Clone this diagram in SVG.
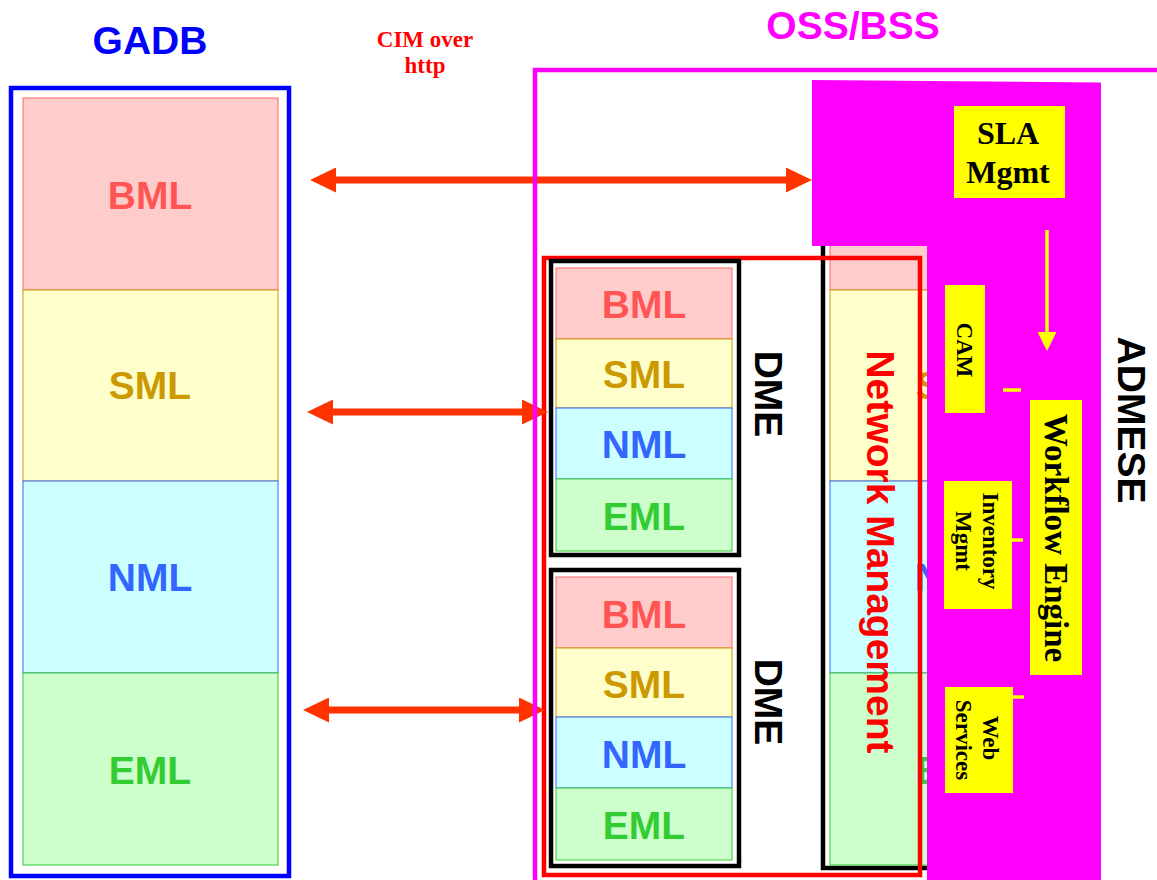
<svg xmlns="http://www.w3.org/2000/svg" width="1157" height="880" viewBox="0 0 1157 880">
<style>
.sans{font-family:"Liberation Sans",Arial,sans-serif;font-weight:bold}
.serif{font-family:"Liberation Serif","Times New Roman",serif;font-weight:bold}
.lbl{font-size:39px;text-anchor:middle}
.bml{fill:#ffcccc;stroke:#ff6666;stroke-width:1}
.sml{fill:#ffffcc;stroke:#cc9900;stroke-width:1}
.nml{fill:#ccffff;stroke:#3366ff;stroke-width:1}
.eml{fill:#ccffcc;stroke:#33cc33;stroke-width:1}
.tb{fill:#ff5555}
.ts{fill:#cc9900}
.tn{fill:#3366ff}
.te{fill:#33cc33}
.dmebox{fill:none;stroke:#000;stroke-width:4.5}
.ybox{fill:#ffff00}
.rt{font-size:23px;text-anchor:middle;fill:#000}
.arr{stroke:#ff3300;stroke-width:7;fill:none}
.yl{stroke:#ffff00;stroke-width:3.5;fill:none}
</style>
<defs>
<marker id="ah" viewBox="0 0 26 25" refX="6" refY="12.5" markerWidth="26" markerHeight="25" markerUnits="userSpaceOnUse" orient="auto-start-reverse">
<path d="M0,0 L26,12.5 L0,25 Z" fill="#ff3300"/>
</marker>
<marker id="ya" viewBox="0 0 19 19" refX="3" refY="9.5" markerWidth="19" markerHeight="19" markerUnits="userSpaceOnUse" orient="auto">
<path d="M0,0 L19,9.5 L0,19 Z" fill="#ffff00"/>
</marker>
</defs>
<rect width="1157" height="880" fill="#fff"/>

<g id="gadb">
<text class="sans" x="150" y="54" font-size="39" text-anchor="middle" fill="#0000ff">GADB</text>
<rect x="11" y="88" width="278" height="788" fill="none" stroke="#0000ff" stroke-width="4.5"/>
<rect class="bml" x="23" y="98" width="255" height="192"/>
<rect class="sml" x="23" y="290" width="255" height="191"/>
<rect class="nml" x="23" y="481" width="255" height="192"/>
<rect class="eml" x="23" y="673" width="255" height="192"/>
<text class="sans lbl tb" x="150" y="209">BML</text>
<text class="sans lbl ts" x="150" y="399">SML</text>
<text class="sans lbl tn" x="150" y="591">NML</text>
<text class="sans lbl te" x="150" y="784">EML</text>
</g>

<g id="cim-label">
<text class="serif" x="425" y="47" font-size="23" text-anchor="middle" fill="#ff0000">CIM over</text>
<text class="serif" x="425" y="73" font-size="23" text-anchor="middle" fill="#ff0000">http</text>
</g>

<g id="oss-title">
<text class="sans" x="853" y="39" font-size="39" text-anchor="middle" fill="#ff00ff">OSS/BSS</text>
</g>

<g id="nm-stack">
<rect x="823" y="240" width="270" height="628" fill="none" stroke="#000" stroke-width="4.5"/>
<rect class="bml" x="830" y="98" width="255" height="192"/>
<rect class="sml" x="830" y="290" width="255" height="191"/>
<rect class="nml" x="830" y="481" width="255" height="192"/>
<rect class="eml" x="830" y="673" width="255" height="192"/>
<text class="sans lbl ts" x="957" y="399">SML</text>
<text class="sans lbl tn" x="957" y="591">NML</text>
<text class="sans lbl te" x="957" y="784">EML</text>
</g>

<g id="network-management">
<rect x="544" y="258" width="376" height="617" fill="none" stroke="#ff0000" stroke-width="4.5"/>
<text class="sans" transform="translate(867,552) rotate(90)" font-size="39" text-anchor="middle" fill="#ff0000">Network Management</text>
</g>

<g id="dme1">
<rect class="dmebox" x="551" y="261" width="188" height="294"/>
<rect class="bml" x="556" y="268" width="176" height="71"/>
<rect class="sml" x="556" y="339" width="176" height="69"/>
<rect class="nml" x="556" y="408" width="176" height="71"/>
<rect class="eml" x="556" y="479" width="176" height="72"/>
<text class="sans lbl tb" x="644" y="318">BML</text>
<text class="sans lbl ts" x="644" y="388">SML</text>
<text class="sans lbl tn" x="644" y="458">NML</text>
<text class="sans lbl te" x="644" y="530">EML</text>
<text class="sans" transform="translate(755,394) rotate(90)" font-size="39" text-anchor="middle" fill="#000">DME</text>
</g>

<g id="dme2">
<rect class="dmebox" x="551" y="570" width="188" height="296"/>
<rect class="bml" x="556" y="577" width="176" height="71"/>
<rect class="sml" x="556" y="648" width="176" height="69"/>
<rect class="nml" x="556" y="717" width="176" height="71"/>
<rect class="eml" x="556" y="788" width="176" height="72"/>
<text class="sans lbl tb" x="644" y="628">BML</text>
<text class="sans lbl ts" x="644" y="698">SML</text>
<text class="sans lbl tn" x="644" y="768">NML</text>
<text class="sans lbl te" x="644" y="839">EML</text>
<text class="sans" transform="translate(755,702) rotate(90)" font-size="39" text-anchor="middle" fill="#000">DME</text>
</g>

<g id="admese">
<path d="M812,80 L1101,82.5 L1101,880 L927,880 L927,246 L812,246 Z" fill="#ff00ff"/>
<text class="sans" transform="translate(1118,420) rotate(90)" font-size="39" text-anchor="middle" fill="#000">ADMESE</text>
</g>

<g id="sla-mgmt">
<rect class="ybox" x="954" y="106" width="111" height="92"/>
<text class="serif" x="1008" y="144" font-size="32" text-anchor="middle" fill="#000">SLA</text>
<text class="serif" x="1008" y="183" font-size="32" text-anchor="middle" fill="#000">Mgmt</text>
</g>

<g id="cam">
<rect class="ybox" x="945" y="285" width="40" height="128"/>
<text class="serif rt" transform="translate(957,350) rotate(90)">CAM</text>
</g>

<g id="inventory-mgmt">
<rect class="ybox" x="944" y="481" width="68" height="128"/>
<text class="serif rt" transform="translate(983,541) rotate(90)">Inventory</text>
<text class="serif rt" transform="translate(956,541) rotate(90)">Mgmt</text>
</g>

<g id="web-services">
<rect class="ybox" x="945" y="687" width="68" height="106"/>
<text class="serif rt" transform="translate(983,738) rotate(90)">Web</text>
<text class="serif rt" transform="translate(956,740) rotate(90)">Services</text>
</g>

<g id="workflow-engine">
<rect class="ybox" x="1030" y="400" width="52" height="275"/>
<text class="serif" transform="translate(1045,538) rotate(90)" font-size="33" text-anchor="middle" fill="#000">Workflow Engine</text>
</g>

<g id="connectors">
<line class="arr" x1="330" y1="180" x2="792" y2="180" marker-start="url(#ah)" marker-end="url(#ah)"/>
<line class="arr" x1="327" y1="412" x2="528" y2="412" marker-start="url(#ah)" marker-end="url(#ah)"/>
<line class="arr" x1="323" y1="710" x2="525" y2="710" marker-start="url(#ah)" marker-end="url(#ah)"/>
<line class="yl" x1="1047" y1="230" x2="1047" y2="335" marker-end="url(#ya)"/>
<line class="yl" stroke-width="4" x1="1003" y1="390" x2="1021" y2="390"/>
<line class="yl" stroke-width="4" x1="1012" y1="540" x2="1023" y2="540"/>
<line class="yl" stroke-width="4" x1="1013" y1="697" x2="1024" y2="697"/>
</g>

<g id="oss-frame">
<path d="M535,880 L535,70 L1157,70" fill="none" stroke="#ff00ff" stroke-width="4.5"/>
</g>
</svg>
